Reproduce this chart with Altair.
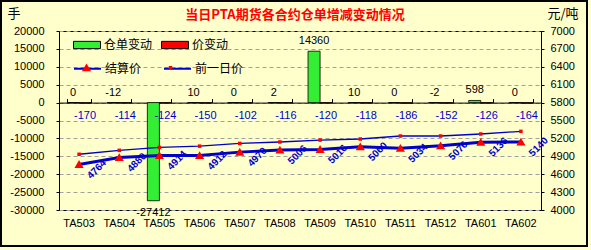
import altair as alt
import pandas as pd

categories = ["TA503", "TA504", "TA505", "TA506", "TA507", "TA508",
              "TA509", "TA510", "TA511", "TA512", "TA601", "TA602"]
receipt_change = [0, -12, -27412, 10, 0, 2, 14360, 10, 0, -2, 598, 0]
price_change = [-170, -114, -124, -150, -102, -116, -120, -118, -186, -152, -126, -164]
settle_price = [4764, 4880, 4914, 4912, 4970, 5006, 5016, 5060, 5034, 5076, 5136, 5140]
prev_price = [4934, 5000, 5050, 5070, 5116, 5140, 5172, 5190, 5240, 5240, 5274, 5318]

bar_series = ["仓单变动", "价变动"]
line_series = ["结算价", "前一日价"]

bars = pd.DataFrame({
    "cat": categories * 2,
    "series": [bar_series[0]] * len(categories) + [bar_series[1]] * len(categories),
    "value": receipt_change + price_change,
})
bars["label"] = bars["value"].astype(str)

lines = pd.DataFrame({
    "cat": categories * 2,
    "sl": [line_series[0]] * len(categories) + [line_series[1]] * len(categories),
    "price": settle_price + prev_price,
})
lines["sp"] = lines["sl"]
lines["label"] = lines["price"].astype(str)

BG = "#FFFFCC"
BLUE = "#0000CC"
CJK = "Noto Sans CJK SC"
NUM = "Liberation Sans"
RECT_PATH = "M-1,-0.27H1V0.27H-1Z"
TRI_PATH = "M0,-0.32L0.34,0.26L-0.34,0.26Z"
SQ_PATH = "M-0.13,-0.13H0.13V0.13H-0.13Z"

xscale = alt.Scale(domain=categories, paddingInner=0.4, paddingOuter=0.2)
x_bottom = alt.X("cat:N", sort=categories, scale=xscale,
                 axis=alt.Axis(title=None, labelAngle=0, ticks=False, domain=False,
                               labelPadding=7, labelFontSize=11, labelFont=NUM,
                               labelColor="black"))
x_top = alt.X("cat:N", sort=categories, scale=xscale,
              axis=alt.Axis(orient="top", title=None, labels=False, ticks=True,
                            tickBand="extent", tickSize=4, tickColor="black",
                            domain=True, domainColor="black", offset=-71.6))

xoff = alt.XOffset("series:N", sort=bar_series,
                   scale=alt.Scale(domain=bar_series, paddingInner=0, paddingOuter=0))

y_left = alt.Y("value:Q", stack=None,
               scale=alt.Scale(domain=[-30000, 20000], nice=False, zero=False),
               axis=alt.Axis(values=list(range(-30000, 20001, 5000)), title="手",
                             titleAngle=0, titleX=-52, titleY=-14, titleAlign="left",
                             titleBaseline="alphabetic", titleFont=CJK, titleFontSize=13,
                             titleFontWeight="normal", titleColor="black",
                             labelExpr="'' + datum.value", labelFont=NUM, labelFontSize=11,
                             labelColor="black", grid=True, gridDash=[4, 3],
                             gridColor="#A0A0A0", tickSize=3, tickColor="black",
                             labelPadding=12, domainColor="black"))

y_right = alt.Y("price:Q",
                scale=alt.Scale(domain=[4000, 7000], nice=False, zero=False),
                axis=alt.Axis(orient="right", values=list(range(4000, 7001, 300)),
                              title="元/吨", titleAngle=0, titleX=6, titleY=-14,
                              titleAlign="left", titleBaseline="alphabetic", titleFont=CJK,
                              titleFontSize=13, titleFontWeight="normal", titleColor="black",
                              labelExpr="'' + datum.value", labelFont=NUM, labelFontSize=11,
                              labelColor="black", grid=False, tickSize=3, tickColor="black",
                              labelPadding=6, domainColor="black"))

bar_base = alt.Chart(bars).encode(x=x_bottom, xOffset=xoff, y=y_left)

bar_marks = bar_base.mark_bar(stroke="black", strokeWidth=0.8).encode(
    fill=alt.Fill("series:N",
                  scale=alt.Scale(domain=bar_series, range=["#33EE33", "#FF0000"]),
                  legend=alt.Legend(title=None, orient="none", legendX=14, legendY=0,
                                    direction="horizontal", symbolType=RECT_PATH,
                                    symbolSize=729, symbolStrokeColor="black",
                                    symbolStrokeWidth=1, labelFont=CJK, labelFontSize=12,
                                    labelColor="black", labelOffset=3, columnPadding=6,
                                    padding=0))
)

label_above = bar_base.transform_filter(
    (alt.datum.series == bar_series[0]) & (alt.datum.value >= -100)
).mark_text(dy=-10, fontSize=11, font=NUM, color="black").encode(text="label:N")

label_below = bar_base.transform_filter(
    (alt.datum.series == bar_series[0]) & (alt.datum.value < -100)
).mark_text(dy=12, fontSize=11, font=NUM, color="black").encode(text="label:N")

price_chg_labels = bar_base.transform_filter(
    alt.datum.series == bar_series[1]
).mark_text(dy=13, fontSize=11, font=NUM, color=BLUE).encode(text="label:N")

frame = alt.Chart(bars).mark_rect(fill=BG, fillOpacity=0, stroke="black",
                                  strokeWidth=1.5).encode(
    x=alt.value(-58), x2=alt.value(528), y=alt.value(-30), y2=alt.value(215))

left_layer = alt.layer(bar_marks, label_above, label_below, price_chg_labels, frame)

line_base = alt.Chart(lines).encode(x=x_top, y=y_right)

line_marks = line_base.mark_line().encode(
    stroke=alt.Stroke("sl:N", sort=line_series, scale=alt.Scale(range=[BLUE, BLUE]),
                      legend=alt.Legend(title=None, orient="none", legendX=14, legendY=23,
                                        direction="horizontal", symbolType="stroke",
                                        symbolSize=729, symbolStrokeWidth=2,
                                        labelFont=CJK, labelFontSize=12, labelColor="black",
                                        labelOffset=3, columnPadding=18, padding=0)),
    strokeWidth=alt.StrokeWidth("sl:N", sort=line_series, scale=alt.Scale(range=[3, 1.3]),
                                legend=None),
)

point_marks = line_base.mark_point(filled=True, color="#FF0000", size=729, opacity=1,
                                   strokeWidth=0).encode(
    shape=alt.Shape("sp:N", sort=line_series, scale=alt.Scale(range=[TRI_PATH, SQ_PATH]),
                    legend=alt.Legend(title=None, orient="none", legendX=14, legendY=23,
                                      direction="horizontal", symbolSize=729,
                                      symbolFillColor="#FF0000", symbolStrokeWidth=0,
                                      labelExpr="''", labelFont=CJK, labelFontSize=12,
                                      labelOffset=3, columnPadding=54, padding=0))
)

settle_labels = line_base.transform_filter(
    alt.datum.sl == line_series[0]
).mark_text(angle=315, dx=9, dy=16, fontSize=10, fontWeight="bold", font=NUM,
            color=BLUE).encode(text="label:N")

right_layer = alt.layer(line_marks, point_marks, settle_labels)

chart = alt.layer(left_layer, right_layer).resolve_scale(
    y="independent"
).resolve_axis(
    x="independent"
).properties(
    width=482, height=179, autosize="none",
    padding={"left": 59, "top": 31, "right": 50, "bottom": 40},
    background=BG,
    title=alt.Title("当日PTA期货各合约仓单增减变动情况", color="#FF0000", fontSize=13,
                    font=CJK, fontWeight="bold", anchor="middle", frame="group",
                    offset=0, dx=-5, dy=22),
).configure_view(
    fill=BG, stroke="black", strokeWidth=1
)

chart.save("out.html", embed_options={"renderer": "svg", "actions": False})
